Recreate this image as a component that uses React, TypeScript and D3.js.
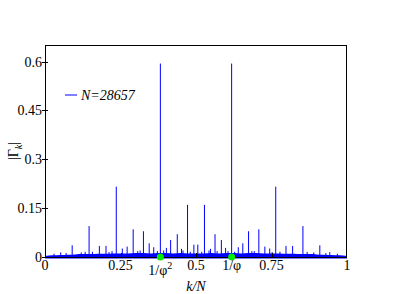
import React from "react";
import * as d3 from "d3";

// Main Bragg-like peaks of |Γ_k| (k/N, height)
const peakK = [0.090, 0.146, 0.180, 0.202, 0.236, 0.256, 0.272, 0.292, 0.326, 0.345, 0.360, 0.382,
  0.393, 0.402, 0.416, 0.438, 0.452, 0.472, 0.493, 0.506, 0.528, 0.548, 0.563, 0.584, 0.598,
  0.618, 0.640, 0.655, 0.674, 0.708, 0.728, 0.744, 0.764, 0.798, 0.820, 0.854, 0.910, 0.943];
const peakH = [0.036, 0.095, 0.034, 0.034, 0.216, 0.026, 0.032, 0.085, 0.079, 0.042, 0.030, 0.594,
  0.020, 0.028, 0.052, 0.070, 0.025, 0.160, 0.038, 0.038, 0.160, 0.025, 0.070, 0.052, 0.028,
  0.594, 0.030, 0.042, 0.079, 0.085, 0.032, 0.026, 0.216, 0.034, 0.034, 0.095, 0.036, 0.015];

// Small spikes just above the noise floor
const noiseK = [0.030, 0.052, 0.070, 0.120, 0.133, 0.157, 0.212, 0.222, 0.307, 0.315, 0.372, 0.457,
  0.481, 0.519, 0.543, 0.570, 0.606, 0.628, 0.685, 0.693, 0.752, 0.778, 0.868, 0.890, 0.930, 0.968];
const noiseH = [0.010, 0.014, 0.012, 0.014, 0.016, 0.016, 0.015, 0.018, 0.018, 0.020, 0.018, 0.020,
  0.016, 0.016, 0.020, 0.018, 0.018, 0.016, 0.018, 0.018, 0.015, 0.016, 0.016, 0.014, 0.012, 0.010];

// Envelope of the dense noise floor
const floorK = [0, 0.025, 0.05, 0.075, 0.1, 0.125, 0.15, 0.175, 0.2, 0.225, 0.25, 0.275, 0.3, 0.325,
  0.35, 0.375, 0.4, 0.425, 0.45, 0.475, 0.5, 0.525, 0.55, 0.575, 0.6, 0.625, 0.65, 0.675, 0.7,
  0.725, 0.75, 0.775, 0.8, 0.825, 0.85, 0.875, 0.9, 0.925, 0.95, 0.975, 1];
const floorH = [0.003, 0.005, 0.006, 0.007, 0.008, 0.009, 0.009, 0.010, 0.010, 0.011, 0.011, 0.011,
  0.012, 0.012, 0.011, 0.012, 0.012, 0.011, 0.012, 0.011, 0.011, 0.011, 0.012, 0.011, 0.012, 0.012,
  0.011, 0.012, 0.012, 0.011, 0.011, 0.011, 0.010, 0.010, 0.009, 0.009, 0.008, 0.007, 0.006, 0.005, 0.003];

const yTicks = [0, 0.15, 0.3, 0.45, 0.6];
const yTickLabels = ["0", "0.15", "0.3", "0.45", "0.6"];
const xTicks = [0, 0.25, 0.5, 0.75, 1];
const xTickLabels = ["0", "0.25", "0.5", "0.75", "1"];
const phiMarks = [0.381966, 0.618034];

export default function App() {
  const W = 415, H = 294;
  const x0 = 45, x1 = 347, yTop = 45, yBot = 257;
  const x = d3.scaleLinear().domain([0, 1]).range([x0, x1]);
  const y = d3.scaleLinear().domain([0, 0.651]).range([yBot, yTop]);
  const font = 'Liberation Serif, Times New Roman, Times, DejaVu Serif, Noto Serif, serif';
  const blue = "#0000ff";

  const floorArea = d3.area<number>()
    .x((_, i) => x(floorK[i]))
    .y0(() => y(0) + 1.5)
    .y1((d) => y(d))
    .curve(d3.curveMonotoneX);

  const ts = { fontFamily: font };

  return (
    <svg width={W} height={H} style={{ position: "absolute", left: 0, top: 0 }} fontFamily={font}>
      <rect x={0} y={0} width={W} height={H} fill="#fff" />
      {/* noise floor */}
      <path d={floorArea(floorH) || ""} fill={blue} />
      {noiseK.map((k, i) => (
        <line key={"n" + i} x1={x(k)} x2={x(k)} y1={y(0)} y2={y(noiseH[i])} stroke={blue} strokeWidth={1} />
      ))}
      {peakK.map((k, i) => (
        <line key={"p" + i} x1={x(k)} x2={x(k)} y1={y(0)} y2={y(peakH[i])} stroke={blue} strokeWidth={1} />
      ))}
      {/* frame */}
      <rect x={x0 + 0.5} y={yTop + 0.5} width={x1 - x0 - 1} height={yBot - yTop} fill="none" stroke="#000" strokeWidth={1} />
      {/* y ticks */}
      {yTicks.map((t, i) => (
        <g key={"yt" + i}>
          <line x1={x0 - 3} x2={x0 + 3} y1={Math.round(y(t)) + 0.5} y2={Math.round(y(t)) + 0.5} stroke="#000" strokeWidth={1} />
          <text x={x0 - 3} y={y(t)} dy="0.35em" textAnchor="end" fontSize={14} style={ts}>{yTickLabels[i]}</text>
        </g>
      ))}
      {/* x ticks */}
      {xTicks.map((t, i) => (
        <g key={"xt" + i}>
          {i > 0 && i < xTicks.length - 1 && (
            <line x1={Math.round(x(t)) + 0.5} x2={Math.round(x(t)) + 0.5} y1={yBot} y2={yBot - 4} stroke="#000" strokeWidth={1} />
          )}
          <text x={x(t)} y={270} textAnchor="middle" fontSize={14} style={ts}>{xTickLabels[i]}</text>
        </g>
      ))}
      {/* golden ratio markers */}
      {phiMarks.map((k, i) => (
        <circle key={"g" + i} cx={x(k)} cy={y(0)} r={3.5} fill="#00ee00" />
      ))}
      <text x={x(phiMarks[0])} y={275} textAnchor="middle" fontSize={14} style={ts}>
        1/φ<tspan fontSize={10} dy={-6}>2</tspan>
      </text>
      <text x={x(phiMarks[1])} y={270} textAnchor="middle" fontSize={14} style={ts}>1/φ</text>
      {/* axis titles */}
      <text x={x(0.5)} y={291} textAnchor="middle" fontSize={14} fontStyle="italic" style={ts}>k/N</text>
      <text transform="translate(18,151) rotate(-90)" textAnchor="middle" fontSize={14} style={ts}>
        |Γ<tspan fontSize={10} fontStyle="italic" dy={4}>k</tspan><tspan dy={-4}>|</tspan>
      </text>
      {/* legend */}
      <line x1={65} x2={77} y1={95} y2={95} stroke={blue} strokeWidth={1} />
      <text x={81} y={100} fontSize={14} fontStyle="italic" style={ts}>N=28657</text>
    </svg>
  );
}
